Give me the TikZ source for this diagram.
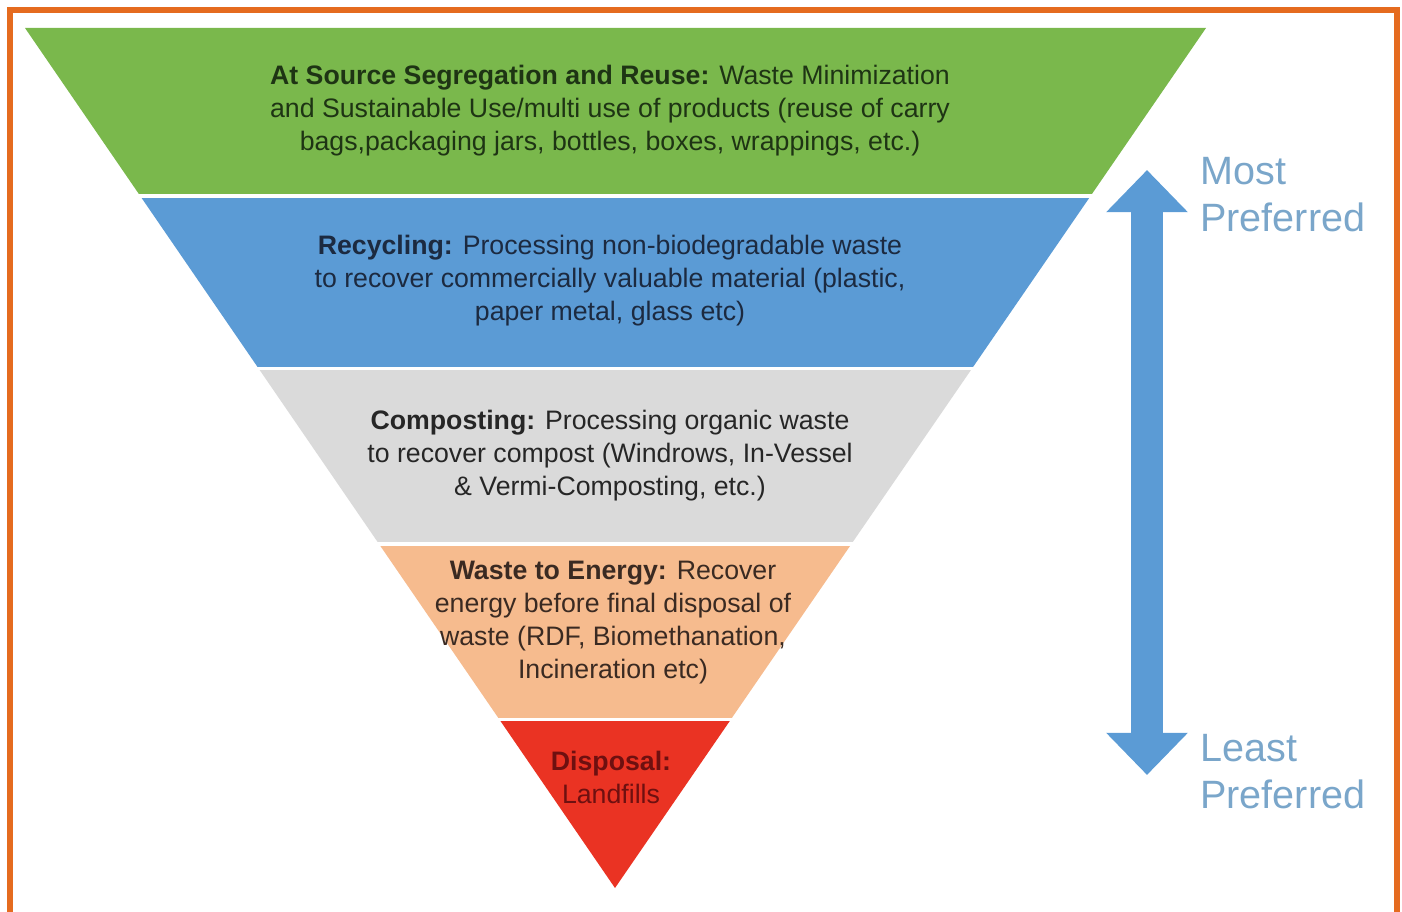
\documentclass[tikz,border=0pt]{standalone}
\usepackage{fontspec}
\setmainfont{Liberation Sans}
\usetikzlibrary{arrows.meta}
\definecolor{bandgreen}{RGB}{122,184,76}
\definecolor{bandblue}{RGB}{91,155,213}
\definecolor{bandgray}{RGB}{218,218,218}
\definecolor{bandorange}{RGB}{246,187,142}
\definecolor{bandred}{RGB}{234,51,35}
\definecolor{framebrd}{RGB}{229,107,31}
\definecolor{preftext}{RGB}{122,166,202}
\tikzset{band_t/.style={align=center, inner sep=0pt, font=\fontsize{15.2}{18.8}\selectfont},
pref_t/.style={align=left, anchor=north west, inner sep=0pt, text=preftext, font=\fontsize{22.5}{26.6}\selectfont},
prefarrow/.style={{Triangle[width=45pt, length=24pt]}-{Triangle[width=45pt, length=24pt]}, line width=18pt, draw=bandblue}}

\begin{document}
\begin{tikzpicture}[x=0.02cm, y=-0.02cm]
  \useasboundingbox (0,0) rectangle (1402,912);
  \draw[framebrd, line width=3.4pt] (10,10) rectangle (1397,940);
  % pyramid corners
  \coordinate (tl) at (25,28);
  \coordinate (tr) at (1206,28);
  \coordinate (apex) at (615,888);
  % bands
  \begin{scope}
    \clip (tl) -- (tr) -- (apex) -- cycle;
    \fill[bandgreen] (0,20) rectangle (1402,194);
    \fill[bandblue] (0,198) rectangle (1402,367);
    \fill[bandgray] (0,370) rectangle (1402,542);
    \fill[bandorange] (0,546) rectangle (1402,718);
    \fill[bandred] (0,721) rectangle (1402,900);
  \end{scope}
  % texts
  \node[band_t, text={rgb,255:red,30;green,52;blue,20}] (reuse) at (610,111)
    {\textbf{At Source Segregation and Reuse:} Waste Minimization\\ and Sustainable Use/multi use of products (reuse of carry\\ bags,packaging jars, bottles, boxes, wrappings, etc.)};
  \node[band_t, text={rgb,255:red,28;green,42;blue,64}] (recyc) at (610,281)
    {\textbf{Recycling:} Processing non-biodegradable waste\\ to recover commercially valuable material (plastic,\\ paper metal, glass etc)};
  \node[band_t, text={rgb,255:red,38;green,38;blue,38}] (compost) at (610,456)
    {\textbf{Composting:} Processing organic waste\\ to recover compost (Windrows, In-Vessel\\ \& Vermi-Composting, etc.)};
  \node[band_t, text={rgb,255:red,58;green,42;blue,34}] (energy) at (613,623)
    {\textbf{Waste to Energy:} Recover\\ energy before final disposal of\\ waste (RDF, Biomethanation,\\ Incineration etc)};
  \node[band_t, text={rgb,255:red,110;green,16;blue,16}] (landfill) at (611,777)
    {\textbf{Disposal:}\\ Landfills};
  % preference arrow
  \coordinate (up) at (1147,170);
  \coordinate (dn) at (1147,775);
  \draw[prefarrow] (dn) -- (up);
  \node[pref_t] (most) at (1200,157) {Most\\ Preferred};
  \node[pref_t] (least) at (1200,734) {Least\\ Preferred};
\end{tikzpicture}
\end{document}
